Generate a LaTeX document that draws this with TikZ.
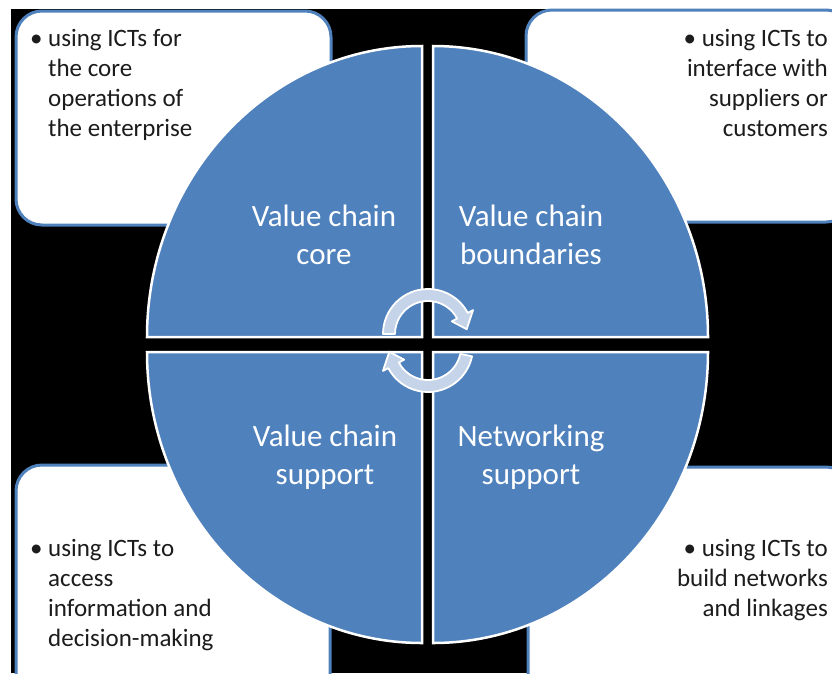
\documentclass[tikz,border=0pt]{standalone}
\usepackage{fontspec}
\setmainfont{Carlito}
\definecolor{qblue}{RGB}{79,129,189}
\definecolor{arrowfill}{RGB}{198,212,233}
\definecolor{textgray}{RGB}{28,28,28}
\begin{document}
\begin{tikzpicture}[x=1pt,y=-1pt,
  infobox/.style={draw=qblue, line width=3pt, fill=white, rounded corners=26pt},
  quarter/.style={fill=qblue, draw=white, line width=2.5pt},
  cyclearrow/.style={fill=arrowfill, draw=white, line width=1.8pt, line join=round},
  quadlabel/.style={text=white, inner sep=0pt, font=\fontsize{31}{38}\selectfont},
  notetext/.style={text=textgray, inner sep=0pt, font=\fontsize{25}{30}\selectfont}]
\useasboundingbox (0,0) rectangle (832,673);
\clip (0,0) rectangle (832,673);
% page and dark backdrop
\fill[white] (0,0) rectangle (832,673);
\fill[black] (11,9) rectangle (832,673);

% note boxes behind the circle
\draw[infobox] (16,11) rectangle (331,225);
\draw[infobox] (526,10) rectangle (852,222);
\draw[infobox] (16,465) rectangle (330,700);
\draw[infobox] (528,467) rectangle (852,700);

% four quarters of the circle
\draw[quarter] (422,337) -- (147,337) arc[start angle=180, end angle=270, x radius=275, y radius=291] -- cycle;
\draw[quarter] (433,46) arc[start angle=270, end angle=360, x radius=275, y radius=291] -- (433,337) -- cycle;
\draw[quarter] (147,352) arc[start angle=180, end angle=90, x radius=275, y radius=291] -- (422,352) -- cycle;
\draw[quarter] (708,352) arc[start angle=0, end angle=90, x radius=275, y radius=291] -- (433,352) -- cycle;

% circular arrows in the middle
\draw[cyclearrow, shift={(428,334)}] (180:45) arc[start angle=180, end angle=332, radius=45]
  -- (332:51) -- (353:39) -- (332:27) -- (332:33) arc[start angle=332, end angle=180, radius=33] -- cycle;
\draw[cyclearrow, shift={(428,347)}] (12:45) arc[start angle=12, end angle=152, radius=45]
  -- (152:51) -- (173:39) -- (152:27) -- (152:33) arc[start angle=152, end angle=12, radius=33] -- cycle;

% quarter labels
\node[quadlabel, anchor=base] (core) at (324,226) {\begin{tabular}[t]{@{}c@{}}Value chain\\core\end{tabular}};
\node[quadlabel, anchor=base] (bound) at (531,226) {\begin{tabular}[t]{@{}c@{}}Value chain\\boundaries\end{tabular}};
\node[quadlabel, anchor=base] (supp) at (325,446) {\begin{tabular}[t]{@{}c@{}}Value chain\\support\end{tabular}};
\node[quadlabel, anchor=base] (netw) at (531,446) {\begin{tabular}[t]{@{}c@{}}Networking\\support\end{tabular}};

% notes
\node[notetext, anchor=base west] (noteCore) at (30,46) {\begin{tabular}[t]{@{}l@{}l@{}}\makebox[18pt][l]{\textbullet} & using ICTs for\\ & the core\\ & operations of\\ & the enterprise\end{tabular}};
\node[notetext, anchor=base east] (noteBound) at (828,46) {\begin{tabular}[t]{@{}r@{}}\textbullet\ using ICTs to\\interface with\\suppliers or\\customers\end{tabular}};
\node[notetext, anchor=base west] (noteSupp) at (30,556) {\begin{tabular}[t]{@{}l@{}l@{}}\makebox[18pt][l]{\textbullet} & using ICTs to\\ & access\\ & information and\\ & decision-making\end{tabular}};
\node[notetext, anchor=base east] (noteNetw) at (828,556) {\begin{tabular}[t]{@{}r@{}}\textbullet\ using ICTs to\\build networks\\and linkages\end{tabular}};
\end{tikzpicture}
\end{document}
